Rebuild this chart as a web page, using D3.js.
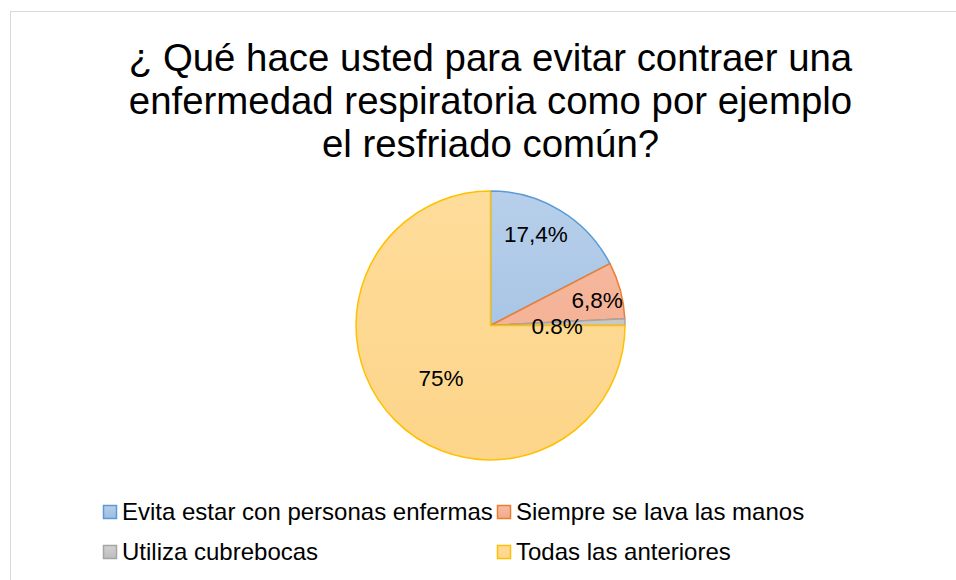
<!DOCTYPE html>
<html>
<head>
<meta charset="utf-8">
<script src="https://cdn.jsdelivr.net/npm/d3@7"></script>
<style>
  html, body { margin: 0; padding: 0; background: #fff; }
  svg { display: block; font-family: "Liberation Sans", Arial, sans-serif; }
</style>
</head>
<body>
<svg id="chart" width="956" height="580"></svg>
<script>
// Datos de la gráfica
const categorias = ["Evita estar con personas enfermas", "Siempre se lava las manos", "Utiliza cubrebocas", "Todas las anteriores"];
const valores = [17.4, 6.8, 0.8, 75];
const etiquetas = ["17,4%", "6,8%", "0.8%", "75%"];
const tituloLineas = ["¿ Qué hace usted para evitar contraer una", "enfermedad respiratoria como por ejemplo", "el resfriado común?"];

// Colores (relleno claro arriba, oscuro abajo, borde)
const rellenoArriba = ["#b7cfea", "#f6bca4", "#d2d2d2", "#fedc9a"];
const rellenoAbajo = ["#9bbce2", "#f3a98a", "#bdbdbd", "#fdd58a"];
const bordes = ["#5b9bd5", "#ed7d31", "#a5a5a5", "#ffc000"];

const width = 956, height = 580;
const cx = 490.5, cy = 325.5, radio = 134.5;
// Posición de cada etiqueta: radio relativo y desplazamiento angular (grados)
const radioEtiqueta = [0.76, 0.815, 0.495, 0.54];
const giroEtiqueta = [-5, 1.6, 1.8, -2];

const svg = d3.select("#chart");

// Marco del área del gráfico
svg.append("rect")
    .attr("x", 10.5).attr("y", 11.5)
    .attr("width", 1000).attr("height", 1000)
    .attr("fill", "none")
    .attr("stroke", "#d9d9d9")
    .attr("stroke-width", 1);

// Título
svg.append("text")
    .attr("text-anchor", "middle")
    .attr("font-size", 38.4)
    .attr("fill", "#000")
    .selectAll("tspan")
    .data(tituloLineas)
    .enter().append("tspan")
    .attr("x", cx)
    .attr("y", (d, i) => 71 + i * 43)
    .text(d => d);

// Degradados
const defs = svg.append("defs");
categorias.forEach((c, i) => {
    const g = defs.append("linearGradient")
        .attr("id", "grad" + i)
        .attr("gradientUnits", "userSpaceOnUse")
        .attr("x1", 0).attr("y1", -radio)
        .attr("x2", 0).attr("y2", radio);
    g.append("stop").attr("offset", "0%").attr("stop-color", rellenoArriba[i]);
    g.append("stop").attr("offset", "100%").attr("stop-color", rellenoAbajo[i]);

    const gl = defs.append("linearGradient")
        .attr("id", "gradL" + i)
        .attr("x1", 0).attr("y1", 0).attr("x2", 0).attr("y2", 1);
    gl.append("stop").attr("offset", "0%").attr("stop-color", rellenoArriba[i]);
    gl.append("stop").attr("offset", "100%").attr("stop-color", rellenoAbajo[i]);
});

const pie = d3.pie().sort(null).value(d => d);
const arcs = pie(valores);
const arc = d3.arc().innerRadius(0).outerRadius(radio);

const g = svg.append("g").attr("transform", `translate(${cx},${cy})`);

g.selectAll("path")
    .data(arcs)
    .enter().append("path")
    .attr("d", arc)
    .attr("fill", (d, i) => `url(#grad${i})`)
    .attr("stroke", (d, i) => bordes[i])
    .attr("stroke-width", 1.5)
    .attr("stroke-linejoin", "round");

// Etiquetas de datos
g.selectAll("text.lbl")
    .data(arcs)
    .enter().append("text")
    .attr("class", "lbl")
    .attr("text-anchor", "middle")
    .attr("dy", "0.35em")
    .attr("font-size", 22.5)
    .attr("fill", "#000")
    .attr("transform", (d, i) => {
        const a = (d.startAngle + d.endAngle) / 2 + giroEtiqueta[i] * Math.PI / 180;
        const r = radio * radioEtiqueta[i];
        return `translate(${Math.sin(a) * r},${-Math.cos(a) * r})`;
    })
    .text((d, i) => etiquetas[i]);

// Leyenda
const legX = [103, 497];
const legY = [512, 552];
const leg = svg.append("g")
    .selectAll("g")
    .data(categorias)
    .enter().append("g")
    .attr("transform", (d, i) => `translate(${legX[i % 2]},${legY[Math.floor(i / 2)]})`);

leg.append("rect")
    .attr("x", 0.5).attr("y", -6.5)
    .attr("width", 13).attr("height", 13)
    .attr("fill", (d, i) => `url(#gradL${i})`)
    .attr("stroke", (d, i) => bordes[i])
    .attr("stroke-width", 1.5);

leg.append("text")
    .attr("x", 19)
    .attr("dy", "0.35em")
    .attr("font-size", 24)
    .attr("fill", "#000")
    .text(d => d);
</script>
</body>
</html>
